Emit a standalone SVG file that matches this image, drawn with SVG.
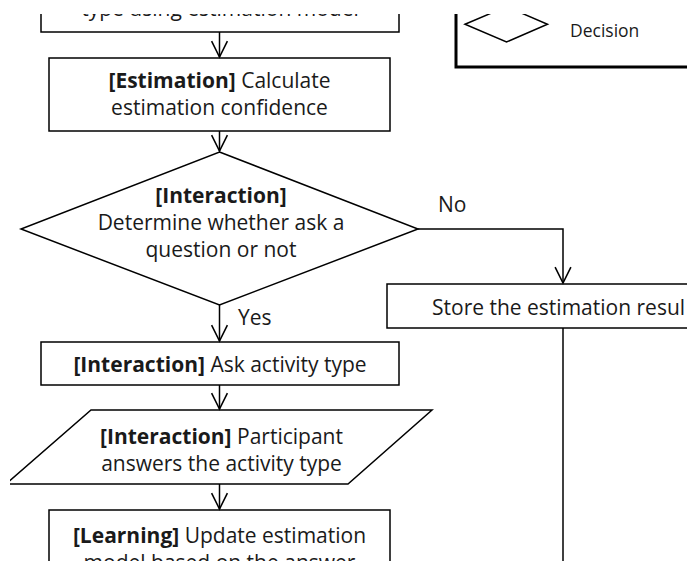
<svg xmlns="http://www.w3.org/2000/svg" width="687" height="564" viewBox="0 0 687 564">
  <style>
    .shape { fill: #ffffff; stroke: #000000; stroke-width: 1.5; }
    .edge { fill: none; stroke: #000000; stroke-width: 1.5; }
    .label { font-family: "Open Sans", "Noto Sans", sans-serif; font-size: 21px; fill: #1a1a1a; text-anchor: middle; }
    .plain { font-family: "Open Sans", "Noto Sans", sans-serif; font-size: 21px; fill: #1a1a1a; }
    .small { font-family: "Open Sans", "Noto Sans", sans-serif; font-size: 17.5px; fill: #1a1a1a; }
    .b { font-weight: bold; }
  </style>
  <defs>
    <marker id="arrow" markerUnits="userSpaceOnUse" markerWidth="20" markerHeight="20" viewBox="-17 -9 19 18" refX="0" refY="0" orient="auto">
      <path d="M-15,-7.5 L0,0 L-15,7.5" fill="none" stroke="#000000" stroke-width="1.5"/>
    </marker>
    <clipPath id="page">
      <rect x="10" y="14" width="677" height="547"/>
    </clipPath>
  </defs>
  <rect width="687" height="564" fill="#ffffff"/>
  <g clip-path="url(#page)">
    <!-- legend panel -->
    <g id="legend">
      <path d="M456,0 L456,67 L690,67" fill="none" stroke="#000000" stroke-width="3"/>
      <polygon points="465,24.3 506.5,6.6 547.5,24.3 506.5,42" class="shape"/>
      <text x="570" y="37" class="small">Decision</text>
    </g>

    <g id="estimate-type">
      <rect x="41" y="-40" width="358" height="72" class="shape"/>
      <text x="220" y="16" class="label">type using estimation model</text>
    </g>

    <g id="confidence">
      <rect x="49" y="58" width="341" height="73" class="shape"/>
      <text class="label"><tspan x="219.5" y="88"><tspan class="b">[Estimation]</tspan> Calculate</tspan><tspan x="219.5" y="115">estimation confidence</tspan></text>
    </g>

    <g id="ask-decision">
      <polygon points="219.5,152 418,229 219.5,305 21,229" class="shape"/>
      <text class="label"><tspan x="221" y="203" class="b">[Interaction]</tspan><tspan x="221" y="230">Determine whether ask a</tspan><tspan x="221" y="257">question or not</tspan></text>
    </g>

    <g id="store-result">
      <rect x="387" y="284" width="320" height="44" class="shape"/>
      <text x="432" y="315" class="plain">Store the estimation resul</text>
    </g>

    <g id="ask-type">
      <rect x="41" y="342" width="358" height="43" class="shape"/>
      <text x="220" y="372" class="label"><tspan class="b">[Interaction]</tspan> Ask activity type</text>
    </g>

    <g id="answer">
      <polygon points="91,410 432,410 348,484 6,484" class="shape"/>
      <text class="label"><tspan x="221.5" y="443.5"><tspan class="b">[Interaction]</tspan> Participant</tspan><tspan x="221.5" y="471">answers the activity type</tspan></text>
    </g>

    <g id="update-model">
      <rect x="49" y="510" width="341" height="80" class="shape"/>
      <text class="label"><tspan x="219.5" y="543"><tspan class="b">[Learning]</tspan> Update estimation</tspan><tspan x="219.5" y="570">model based on the answer</tspan></text>
    </g>

    <g id="connectors">
      <line x1="219.5" y1="32" x2="219.5" y2="57" class="edge" marker-end="url(#arrow)"/>
      <line x1="219.5" y1="131" x2="219.5" y2="151" class="edge" marker-end="url(#arrow)"/>
      <line x1="219.5" y1="305" x2="219.5" y2="341" class="edge" marker-end="url(#arrow)"/>
      <line x1="219.5" y1="385" x2="219.5" y2="409" class="edge" marker-end="url(#arrow)"/>
      <line x1="219.5" y1="484" x2="219.5" y2="509" class="edge" marker-end="url(#arrow)"/>
      <polyline points="418,229 563,229 563,283" class="edge" marker-end="url(#arrow)"/>
      <line x1="563" y1="328" x2="563" y2="600" class="edge"/>
      <text x="238" y="325" class="plain">Yes</text>
      <text x="438" y="212" class="plain">No</text>
    </g>
  </g>
</svg>
